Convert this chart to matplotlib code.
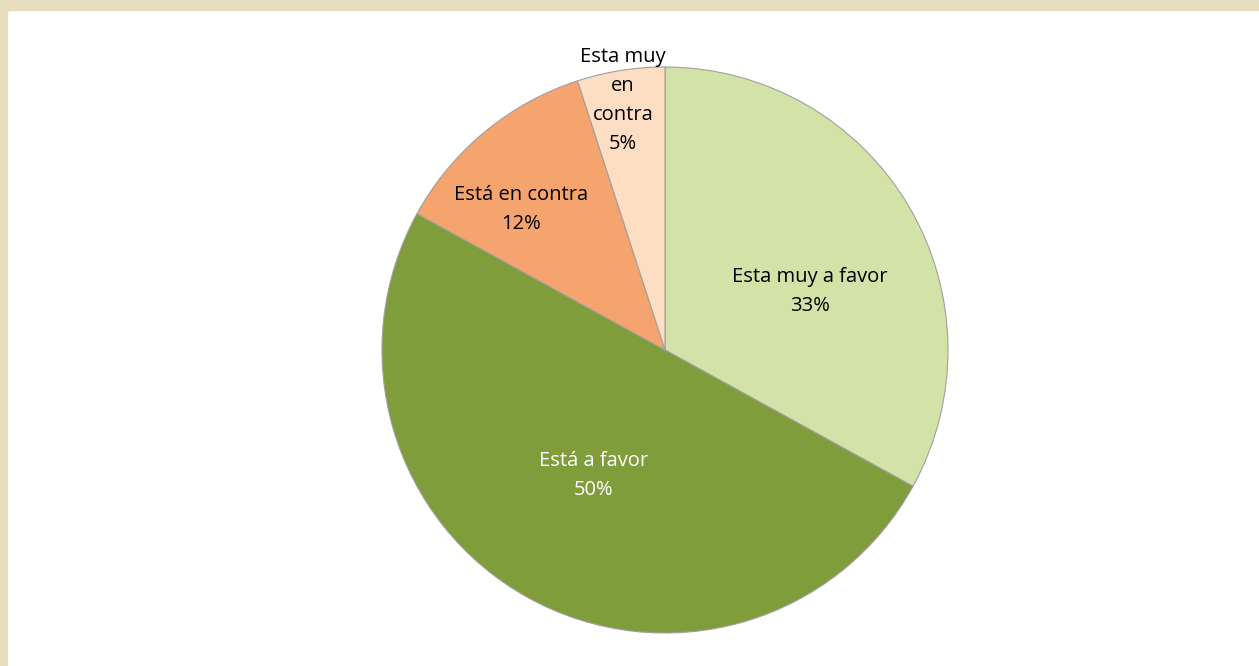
import matplotlib
matplotlib.use('Agg')
import matplotlib.pyplot as plt
from matplotlib.patches import Rectangle

# datos del grafico
categorias = ['Esta muy a favor', 'Está a favor', 'Está en contra', 'Esta muy\nen\ncontra']
valores = [33, 50, 12, 5]
colores = ['#D3E2A6', '#809D3C', '#F5A46E', '#FDDEC3']
colores_texto = ['black', 'white', 'black', 'black']
# posicion de las etiquetas (en unidades del radio)
pos_etiquetas = [(0.512, 0.205), (-0.251, -0.445), (-0.509, 0.498), (-0.148, 0.883)]

plt.rcParams['font.family'] = ['Open Sans', 'DejaVu Sans']

W, H = 1259, 666
fig = plt.figure(figsize=(W / 100, H / 100), dpi=100)
fig.patch.set_facecolor('white')

# marco beige arriba y a la izquierda
beige = '#E8DDBE'
fig.patches.append(Rectangle((0, 1 - 10 / H), 1, 10 / H, transform=fig.transFigure, color=beige, zorder=0))
fig.patches.append(Rectangle((0, 0), 7 / W, 1, transform=fig.transFigure, color=beige, zorder=0))

cx, cy, r = 665, 350, 283
ax = fig.add_axes([(cx - r) / W, (H - cy - r) / H, 2 * r / W, 2 * r / H])

wedges, _ = ax.pie(valores, colors=colores, startangle=90, counterclock=False, radius=1,
                   wedgeprops=dict(edgecolor='#A0A0A0', linewidth=0.8))
ax.set_xlim(-1, 1)
ax.set_ylim(-1, 1)
ax.axis('off')

for cat, v, (x, y), c in zip(categorias, valores, pos_etiquetas, colores_texto):
    ax.text(x, y, f'{cat}\n{v}%', ha='center', va='center', fontsize=14.5, color=c,
            linespacing=1.6, clip_on=False)

fig.savefig('out.png', dpi=100)
